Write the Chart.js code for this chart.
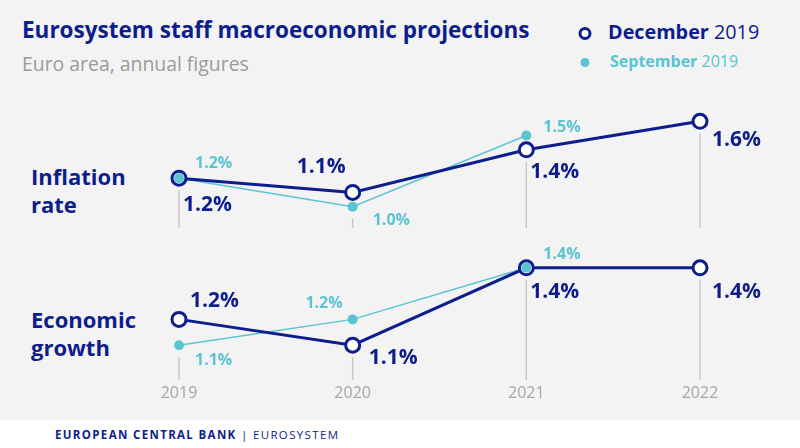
<!DOCTYPE html>
<html>
<head>
<meta charset="utf-8">
<script src="https://cdn.jsdelivr.net/npm/chart.js@4"></script>
<style>
  html, body { margin: 0; padding: 0; background: #fff; }
  #wrap { position: relative; width: 800px; height: 448px; overflow: hidden; font-family: "Open Sans", sans-serif; }
  #panel { position: absolute; left: 0; top: 0; width: 800px; height: 420px; background: #f3f3f3; }
  .abs { position: absolute; white-space: nowrap; }
  #title { left: 22px; top: 18.5px; font-size: 22.5px; line-height: 22.5px; font-weight: 700; color: #0d1e8c; }
  #subtitle { left: 22px; top: 53.5px; font-size: 19.4px; line-height: 19.4px; color: #9a9a9a; }
  #legDec { left: 608px; top: 21.5px; font-size: 19.8px; line-height: 20px; color: #0d1e8c; }
  #legSep { left: 610px; top: 53px; font-size: 16px; line-height: 16px; color: #5bc4d1; }
  .rowlab { left: 31px; font-size: 22px; line-height: 28px; font-weight: 700; color: #0d1e8c; }
  #footer { left: 55px; top: 429px; font-size: 11.5px; line-height: 11.5px; letter-spacing: 1.35px; color: #0d1e8c; }
  .chartbox { position: absolute; left: 0; width: 800px; }
</style>
</head>
<body>
<div id="wrap">
  <div id="panel"></div>
  <div class="abs" id="title">Eurosystem staff macroeconomic projections</div>
  <div class="abs" id="subtitle">Euro area, annual figures</div>
  <div class="abs" id="legDec"><b>December</b> 2019</div>
  <div class="abs" id="legSep"><b>September</b> 2019</div>
  <div class="abs rowlab" style="top:162px">Inflation<br>rate</div>
  <div class="abs rowlab" style="top:305px">Economic<br>growth</div>
  <div class="abs" id="footer"><b>EUROPEAN CENTRAL BANK</b> | EUROSYSTEM</div>
  <canvas id="legendCanvas" width="40" height="60" style="position:absolute;left:565px;top:15px"></canvas>
  <div class="chartbox" style="top:100px;height:128px"><canvas id="inflationChart"></canvas></div>
  <div class="chartbox" style="top:242px;height:178px"><canvas id="growthChart"></canvas></div>
</div>
<script>
// Projection years
const years = ["2019", "2020", "2021", "2022"];

// HICP inflation, % (December 2019 vs September 2019 projections)
const inflationDec = [1.2, 1.1, 1.4, 1.6];
const inflationSep = [1.2, 1.0, 1.5, null];

// Real GDP growth, %
const growthDec = [1.2, 1.1, 1.4, 1.4];
const growthSep = [1.1, 1.2, 1.4, null];

const navy = "#0d1e8c";
const teal = "#5bc4d1";

// label placement relative to each point: [dx, dy to baseline, align]
const inflationDecLabels = [[4, 33, "left"], [-7, -19, "right"], [4, 28, "left"], [12, 25, "left"]];
const inflationSepLabels = [[16, -10, "left"], [20, 18, "left"], [17, -4, "left"], null];
const growthDecLabels = [[11, -12, "left"], [16, 19, "left"], [4, 30, "left"], [12, 30, "left"]];
const growthSepLabels = [[16, 20, "left"], [-10, -11, "right"], [17, -9, "left"], null];

// grey drop lines from below the lowest point down to the panel bottom
const dropLines = {
  id: "dropLines",
  beforeDatasetsDraw(chart) {
    const ctx = chart.ctx;
    const bottom = chart.chartArea.bottom;
    ctx.save();
    ctx.strokeStyle = "#c8c8c8";
    ctx.lineWidth = 1.5;
    years.forEach((yr, i) => {
      let lowest = null, x = null;
      chart.data.datasets.forEach((ds, d) => {
        if (ds.data[i] == null) return;
        const el = chart.getDatasetMeta(d).data[i];
        x = el.x;
        lowest = lowest == null ? el.y : Math.max(lowest, el.y);
      });
      if (lowest == null) return;
      ctx.beginPath();
      ctx.moveTo(x, lowest + 12);
      ctx.lineTo(x, bottom);
      ctx.stroke();
    });
    ctx.restore();
  }
};

// value labels next to the points
const valueLabels = {
  id: "valueLabels",
  afterDatasetsDraw(chart) {
    const ctx = chart.ctx;
    ctx.save();
    ctx.textBaseline = "alphabetic";
    chart.data.datasets.forEach((ds, d) => {
      if (!ds.labelPos) return;
      const meta = chart.getDatasetMeta(d);
      ctx.font = ds.labelFont;
      ctx.fillStyle = ds.labelColor;
      ds.data.forEach((v, i) => {
        const p = ds.labelPos[i];
        if (v == null || !p) return;
        const el = meta.data[i];
        ctx.textAlign = p[2];
        ctx.fillText(v.toFixed(1) + "%", el.x + p[0], el.y + p[1]);
      });
    });
    ctx.restore();
  }
};

function makeDatasets(dec, sep, decLabels, sepLabels) {
  return [
    {
      data: sep, borderColor: teal, borderWidth: 1.5,
      pointRadius: 0, order: 3, clip: false
    },
    {
      data: dec, borderColor: navy, borderWidth: 3,
      pointRadius: 7, pointBorderWidth: 3, pointBorderColor: navy,
      pointBackgroundColor: "#ffffff", order: 2, clip: false,
      labelPos: decLabels, labelFont: "700 21px 'Open Sans'", labelColor: navy
    },
    {
      data: sep, showLine: false, pointRadius: 5, pointBorderWidth: 0,
      pointBackgroundColor: teal, order: 1, clip: false,
      labelPos: sepLabels, labelFont: "700 16px 'Open Sans'", labelColor: teal
    }
  ];
}

function makeOptions(min, max, showYears) {
  const x = {
    display: showYears,
    offset: false,
    grid: { display: false, drawTicks: false },
    border: { display: false },
    ticks: {
      color: "#a6a6a6", padding: 4,
      font: { family: "'Open Sans'", size: 16 }
    }
  };
  if (showYears) x.afterFit = s => { s.height = 40; };
  return {
    responsive: true,
    maintainAspectRatio: false,
    animation: false,
    layout: { autoPadding: false, padding: { left: 179, right: 100, top: 0, bottom: 0 } },
    plugins: { legend: { display: false }, tooltip: { enabled: false } },
    scales: {
      x: x,
      y: { display: false, min: min, max: max }
    }
  };
}

new Chart(document.getElementById("inflationChart"), {
  type: "line",
  data: { labels: years, datasets: makeDatasets(inflationDec, inflationSep, inflationDecLabels, inflationSepLabels) },
  options: makeOptions(0.85, 1.75, false),
  plugins: [dropLines, valueLabels]
});

new Chart(document.getElementById("growthChart"), {
  type: "line",
  data: { labels: years, datasets: makeDatasets(growthDec, growthSep, growthDecLabels, growthSepLabels) },
  options: makeOptions(0.965, 1.5, true),
  plugins: [dropLines, valueLabels]
});

// legend markers
const lg = document.getElementById("legendCanvas").getContext("2d");
lg.lineWidth = 3;
lg.strokeStyle = navy;
lg.fillStyle = "#fff";
lg.beginPath(); lg.arc(20, 18.5, 5, 0, Math.PI * 2); lg.fill(); lg.stroke();
lg.fillStyle = teal;
lg.beginPath(); lg.arc(20, 47.5, 4.5, 0, Math.PI * 2); lg.fill();
</script>
</body>
</html>
